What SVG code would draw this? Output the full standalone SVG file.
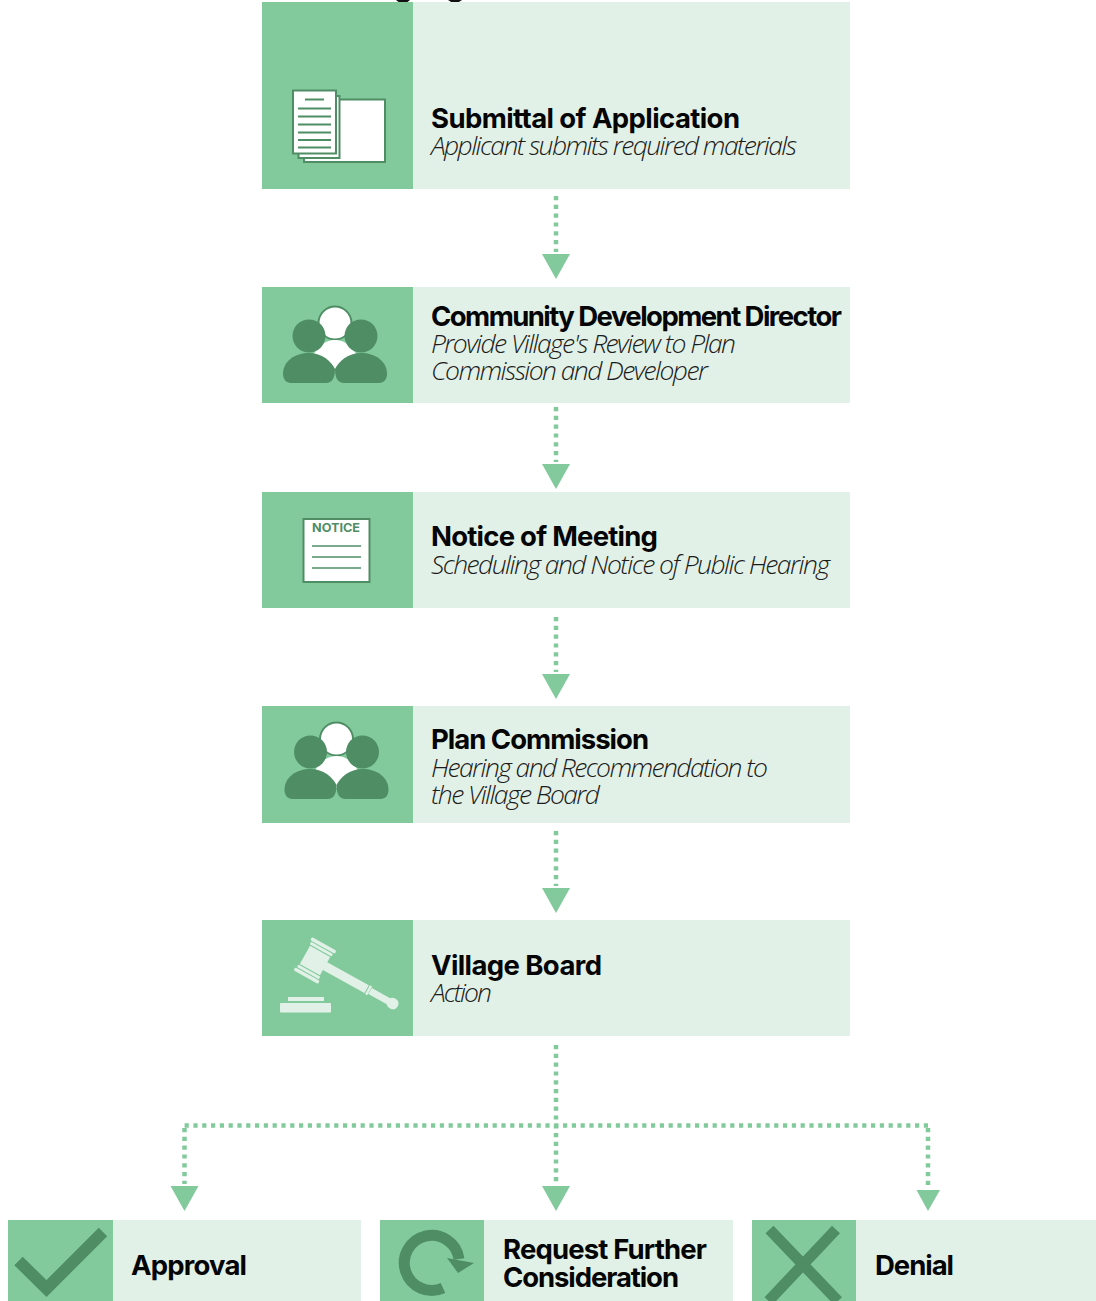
<svg xmlns="http://www.w3.org/2000/svg" width="1096" height="1301" viewBox="0 0 1096 1301">
<style>
.d{fill:#82ca9c}.l{fill:#e2f1e7}.g{fill:#4f8d65}.w{fill:#fff}
.o{fill:#fff;stroke:#4f8d65;stroke-width:2}
.r{stroke:#4f8d65;stroke-width:2;fill:none}
.t{font-family:"Inter","Liberation Sans",sans-serif;font-weight:700;font-size:27.500px;fill:#050505}
.s{font-family:"Open Sans","Liberation Sans",sans-serif;font-weight:300;font-style:italic;font-size:26.500px;fill:#1c1c1c}
.c{stroke:#82ca9c;stroke-width:4.500;stroke-dasharray:4.200 4.600;fill:none}
.a{fill:#82ca9c}
.v{fill:#e2f1e7}
</style>
<defs>
<g id="people">
<circle cx="335" cy="323" r="16.500" class="o"/>
<path class="w" d="M335 340C322 340 317 350 312 356L335 372L358 356C353 350 348 340 335 340Z"/>
<circle cx="309" cy="336" r="16.500" class="g"/>
<circle cx="361" cy="336" r="16.500" class="g"/>
<path class="g" d="M283 374C283 361 295 353 309 353C322 353 331 361 335 369C335 378 332 383 326 383H291C286 383 283 379 283 374Z"/>
<path class="g" d="M387 374C387 361 375 353 361 353C348 353 339 361 335 369C335 378 338 383 344 383H379C384 383 387 379 387 374Z"/>
</g>
</defs>
<rect width="1096" height="1301" fill="#fff"/>
<g id="top-stub"><path d="M396 0L403 5.500L410 0Z" fill="#111"/><path d="M448 0L455 4.500L462 0Z" fill="#111"/></g>
<g id="connectors">
<path class="c" d="M556 196V252"/><polygon class="a" points="542,254 570,254 556,279"/>
<path class="c" d="M556 407V462"/><polygon class="a" points="542,464 570,464 556,489"/>
<path class="c" d="M556 617V672"/><polygon class="a" points="542,674 570,674 556,699"/>
<path class="c" d="M556 831V886"/><polygon class="a" points="542,888 570,888 556,913"/>
<path class="c" d="M556 1045V1184"/><polygon class="a" points="542,1186 570,1186 556,1211"/>
<path class="c" d="M928 1125.500H182"/>
<path class="c" d="M184.500 1128V1184"/><polygon class="a" points="170.500,1186 198.500,1186 184.500,1211"/>
<path class="c" d="M928 1128V1188"/><polygon class="a" points="916.500,1190 940,1190 928,1211"/>
</g>
<g id="node-submittal">
<rect class="d" x="262" y="2" width="151" height="187"/><rect class="l" x="413" y="2" width="437" height="187"/>
<rect class="o" x="304" y="99.500" width="81" height="62.500"/>
<rect class="o" x="298.500" y="96" width="41" height="62"/>
<rect class="o" x="293" y="90.500" width="43" height="63"/>
<path class="r" d="M305 99.500H324M298 108.500H331M298 116.500H331M298 124.500H331M298 132.500H331M298 140H331M298 147.500H331"/>
<text class="t" x="431" y="128" textLength="309">Submittal of Application</text>
<text class="s" x="431" y="155" textLength="366">Applicant submits required materials</text>
</g>
<g id="node-director">
<rect class="d" x="262" y="287" width="151" height="116"/><rect class="l" x="413" y="287" width="437" height="116"/>
<use href="#people"/>
<text class="t" x="431" y="326" textLength="411">Community Development Director</text>
<text class="s" x="431" y="353" textLength="305">Provide Village's Review to Plan</text>
<text class="s" x="431" y="380" textLength="277">Commission and Developer</text>
</g>
<g id="node-notice">
<rect class="d" x="262" y="492" width="151" height="116"/><rect class="l" x="413" y="492" width="437" height="116"/>
<rect class="o" x="303.500" y="519" width="66" height="63"/>
<text x="312" y="532" textLength="48" lengthAdjust="spacingAndGlyphs" style="font-family:'Inter','Liberation Sans',sans-serif;font-weight:700;font-size:12px;fill:#4f8d65">NOTICE</text>
<path class="r" style="stroke-width:1.500" d="M312 546H361M312 557H361M312 568H361"/>
<text class="t" x="431" y="546" textLength="227">Notice of Meeting</text>
<text class="s" x="431" y="574" textLength="399">Scheduling and Notice of Public Hearing</text>
</g>
<g id="node-plan-commission">
<rect class="d" x="262" y="706" width="151" height="117"/><rect class="l" x="413" y="706" width="437" height="117"/>
<use href="#people" transform="translate(1.500 416)"/>
<text class="t" x="431" y="749" textLength="218">Plan Commission</text>
<text class="s" x="431" y="777" textLength="337">Hearing and Recommendation to</text>
<text class="s" x="431" y="804" textLength="169">the Village Board</text>
</g>
<g id="node-village-board">
<rect class="d" x="262" y="920" width="151" height="116"/><rect class="l" x="413" y="920" width="437" height="116"/>
<g transform="translate(315 960.500) rotate(29)">
<rect class="v" x="-11.500" y="-10.500" width="23" height="21"/>
<rect class="v" x="-12.500" y="-14.500" width="25" height="3" rx="1"/>
<rect class="v" x="-12.500" y="11.500" width="25" height="3" rx="1"/>
<rect class="v" x="-14" y="-19" width="28" height="3.500" rx="1.500"/>
<rect class="v" x="-14" y="15.500" width="28" height="3.500" rx="1.500"/>
<rect class="v" x="11" y="-4.500" width="48" height="9"/>
<rect class="v" x="60" y="-5" width="2.500" height="10"/>
<rect class="v" x="63" y="-3.500" width="23" height="7"/>
<rect class="v" x="83" y="-5.500" width="11.500" height="11" rx="5"/>
</g>
<rect class="v" x="288" y="997" width="36" height="4"/>
<rect class="v" x="280" y="1003" width="51" height="9.500" rx="1"/>
<text class="t" x="431" y="975" textLength="171">Village Board</text>
<text class="s" x="431" y="1002" textLength="61">Action</text>
</g>
<g id="node-approval">
<rect class="d" x="8" y="1220" width="105" height="81"/><rect class="l" x="113" y="1220" width="248" height="81"/>
<path d="M18.500 1261L46.500 1288.500L103 1232" fill="none" stroke="#4f8d65" stroke-width="12"/>
<text class="t" x="131" y="1275" textLength="116">Approval</text>
</g>
<g id="node-request">
<rect class="d" x="380" y="1220" width="104" height="81"/><rect class="l" x="484" y="1220" width="249" height="81"/>
<path d="M443 1288A27.500 27.500 0 1 1 459 1259" fill="none" stroke="#4f8d65" stroke-width="11"/>
<polygon class="g" points="447,1258 474,1263 458,1273"/>
<text class="t" x="503" y="1259" textLength="204">Request Further</text>
<text class="t" x="503" y="1287" textLength="176">Consideration</text>
</g>
<g id="node-denial">
<rect class="d" x="752" y="1220" width="104" height="81"/><rect class="l" x="856" y="1220" width="240" height="81"/>
<path d="M769.500 1229.500L838 1301M836 1229.500L768.500 1301" fill="none" stroke="#4f8d65" stroke-width="11"/>
<text class="t" x="875" y="1275" textLength="79">Denial</text>
</g>
</svg>
